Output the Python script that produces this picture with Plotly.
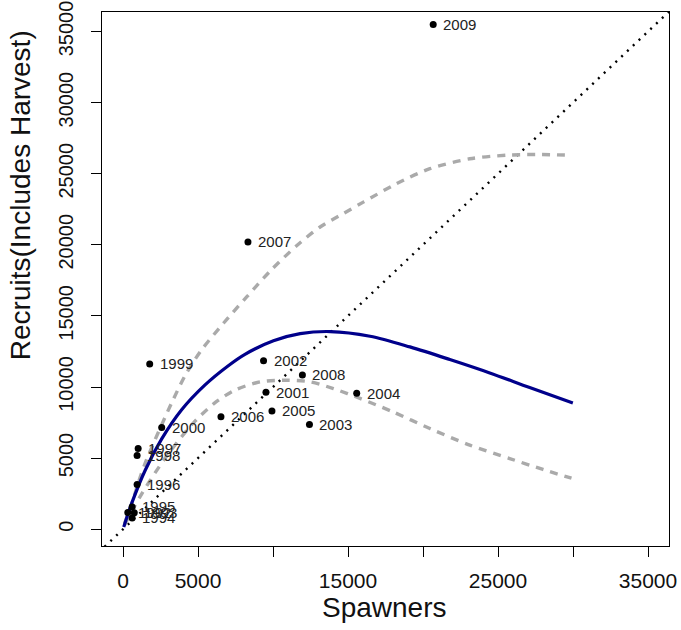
import plotly.graph_objects as go

# Brood-year observations
years = [1992, 1993, 1994, 1995, 1996, 1997, 1998, 1999, 2000,
         2001, 2002, 2003, 2004, 2005, 2006, 2007, 2008, 2009]
spawners = [320, 750, 610, 610, 940, 1010, 940, 1780, 2580,
            9530, 9370, 12430, 15580, 9930, 6530, 8330, 11960, 20680]
recruits = [1170, 1150, 790, 1570, 3140, 5670, 5180, 11620, 7150,
            9630, 11840, 7360, 9560, 8320, 7900, 20200, 10850, 35490]

# Fitted stock-recruit curve
fit_s = [50, 590, 1480, 2580, 3910, 5470, 7020, 8130, 10030, 11810,
         13810, 16470, 19130, 21790, 24450, 27110, 29990]
fit_r = [160, 1850, 4150, 6350, 8400, 10150, 11500, 12300, 13250, 13750,
         13900, 13570, 12820, 11930, 10990, 9960, 8880]

# Upper bound of the fit
upper_s = [100, 590, 1030, 1480, 2140, 3250, 4140, 5160, 6710, 8260, 9810,
           11590, 13140, 14690, 16020, 18240, 20460, 23120, 25560, 27500, 29900]
upper_r = [400, 1810, 3300, 4650, 6300, 8900, 10800, 12500, 14500, 16350, 18150,
           19950, 21250, 22200, 23000, 24300, 25350, 26050, 26300, 26350, 26300]

# Lower bound of the fit
lower_s = [100, 600, 1200, 2160, 3160, 4800, 6200, 7500, 9150, 10920,
           12470, 14030, 15800, 18000, 20460, 23120, 25780, 28000, 29900]
lower_r = [300, 1300, 2400, 4000, 5500, 7600, 8950, 9800, 10360, 10480,
           10360, 9890, 9200, 8250, 7080, 5910, 4970, 4200, 3590]

# Replacement line (recruits = spawners)
diag = [-2000, 38000]

x_ticks = [0, 5000, 10000, 15000, 20000, 25000, 30000, 35000]
x_tick_text = ["0", "5000", "", "15000", "", "25000", "", "35000"]
y_ticks = [0, 5000, 10000, 15000, 20000, 25000, 30000, 35000]
y_tick_text = ["0", "5000", "10000", "15000", "20000", "25000", "30000", "35000"]

FONT = "Liberation Sans, Arial, sans-serif"

fig = go.Figure()

fig.add_trace(go.Scatter(x=diag, y=diag, mode="lines",
                         line=dict(color="black", width=2.4, dash="2px,6px"),
                         hoverinfo="skip"))
fig.add_trace(go.Scatter(x=upper_s, y=upper_r, mode="lines",
                         line=dict(color="#aaaaaa", width=3.4, dash="8px,7px",
                                   shape="spline", smoothing=0.8)))
fig.add_trace(go.Scatter(x=lower_s, y=lower_r, mode="lines",
                         line=dict(color="#aaaaaa", width=3.4, dash="8px,7px",
                                   shape="spline", smoothing=0.8)))
fig.add_trace(go.Scatter(x=fit_s, y=fit_r, mode="lines",
                         line=dict(color="#00008b", width=3.2,
                                   shape="spline", smoothing=0.9)))
fig.add_trace(go.Scatter(x=spawners, y=recruits, mode="markers",
                         marker=dict(color="black", size=7)))

for yr, s, r in zip(years, spawners, recruits):
    fig.add_annotation(x=s, y=r, text=str(yr), showarrow=False,
                       xanchor="left", yanchor="middle", xshift=8,
                       font=dict(family=FONT, size=15, color="#222222"))

fig.add_annotation(text="Spawners", xref="paper", yref="paper",
                   x=0.499, y=-0.116, showarrow=False,
                   xanchor="center", yanchor="middle",
                   font=dict(family=FONT, size=28, color="#111111"))
fig.add_annotation(text="Recruits(Includes Harvest)", xref="paper", yref="paper",
                   x=-0.1446, y=0.657, showarrow=False, textangle=-90,
                   xanchor="center", yanchor="middle",
                   font=dict(family=FONT, size=28, color="#111111"))

axis_common = dict(showgrid=False, zeroline=False, showline=True, mirror=True,
                   linecolor="black", linewidth=1, ticks="outside", ticklen=10,
                   tickwidth=1, tickcolor="black", automargin=False,
                   tickfont=dict(family=FONT, size=21, color="#111111"))

fig.update_xaxes(range=[-1400, 36400], tickvals=x_ticks, ticktext=x_tick_text,
                 ticklabelstandoff=6, **axis_common)
fig.update_yaxes(range=[-1180, 36370], tickvals=y_ticks, ticktext=y_tick_text,
                 tickangle=-90, ticklabelstandoff=10, **axis_common)
fig.update_yaxes(tickfont=dict(size=20))

fig.update_layout(width=681, height=630, showlegend=False,
                  margin=dict(l=102, r=12, t=12, b=84),
                  plot_bgcolor="white", paper_bgcolor="white")

fig.write_html("out.html")
